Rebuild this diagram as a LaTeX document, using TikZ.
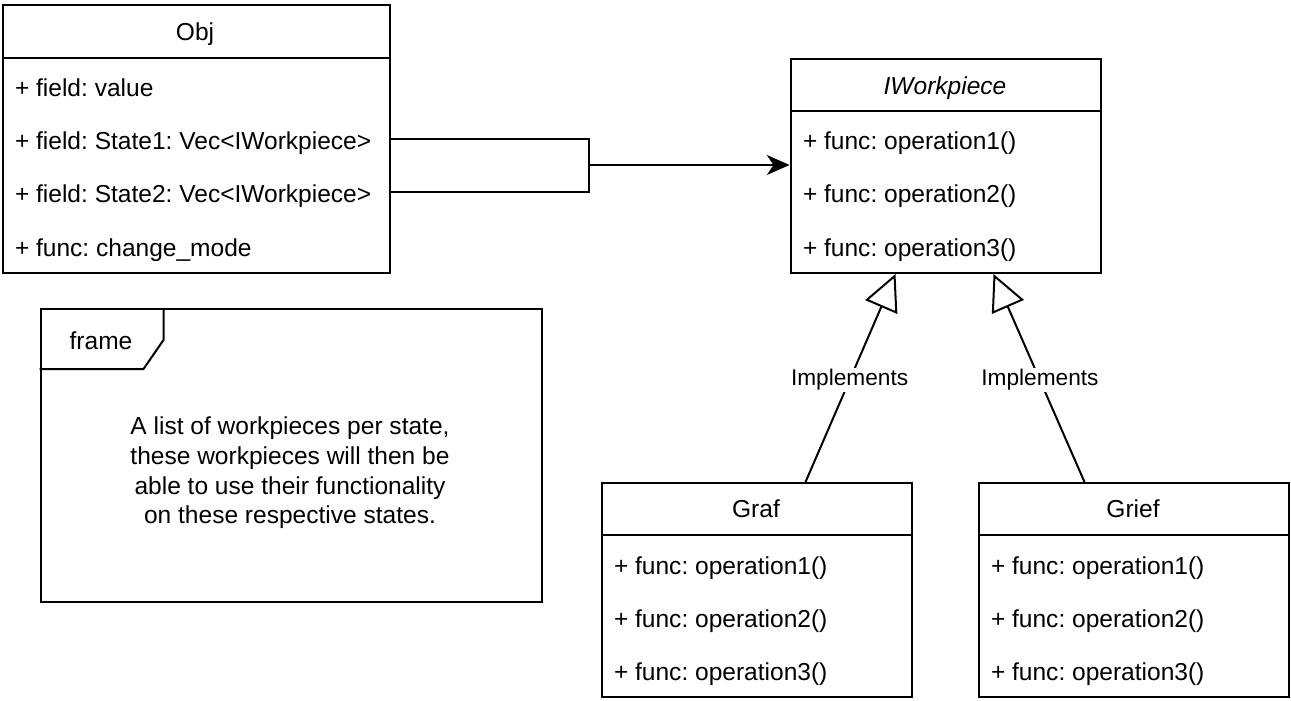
\documentclass[tikz,border=0pt]{standalone}
\usepackage{fontspec}
\setmainfont{Liberation Sans}
\usetikzlibrary{arrows.meta,calc}
\frenchspacing
\begin{document}
\frenchspacing
\begin{tikzpicture}[x=0.75pt,y=-0.75pt,line width=1.5pt,
  classbox/.style={draw,anchor=north west,inner sep=0pt,minimum width=232.5pt,minimum height=160.5pt},
  rowtxt/.style={anchor=base west,inner sep=0pt,font=\fontsize{18.4}{22}\selectfont},
  titletxt/.style={anchor=base,inner sep=0pt,font=\fontsize{18.4}{22}\selectfont},
  lbl/.style={fill=white,inner sep=1pt,font=\fontsize{17}{20}\selectfont},
  inherit/.style={-{Triangle[open,length=27pt,width=26pt,line width=1.5pt]}},
  assoc/.style={-{Stealth[length=17pt,width=15pt,inset=5pt]}}]
\useasboundingbox (0,0) rectangle (1291,700);

% Obj
\node[classbox,minimum width=290.25pt,minimum height=201pt] (Obj) at (1.5,4) {};
\draw (1.5,58) -- (388.5,58);
\node[titletxt] (objt) at (195,40) {Obj};
\node[rowtxt] (o1) at (14,96) {+ field: value};
\node[rowtxt] (o2) at (14,149) {+ field: State1: Vec<IWorkpiece>};
\node[rowtxt] (o3) at (14,202) {+ field: State2: Vec<IWorkpiece>};
\node[rowtxt] (o4) at (14,256) {+ func: change\_mode};

% IWorkpiece
\node[classbox] (IW) at (789.5,58) {};
\draw (789.5,111) -- (1099.5,111);
\node[titletxt,font=\fontsize{18.4}{22}\selectfont\itshape] (iwt) at (945,94) {IWorkpiece};
\node[rowtxt] (i1) at (802,149) {+ func: operation1()};
\node[rowtxt] (i2) at (802,202) {+ func: operation2()};
\node[rowtxt] (i3) at (802,256) {+ func: operation3()};

% Graf
\node[classbox] (Graf) at (600.5,482) {};
\draw (600.5,535) -- (910.5,535);
\node[titletxt] (graft) at (756,517) {Graf};
\node[rowtxt] (g1) at (613,574) {+ func: operation1()};
\node[rowtxt] (g2) at (613,627) {+ func: operation2()};
\node[rowtxt] (g3) at (613,680) {+ func: operation3()};

% Grief
\node[classbox] (Grief) at (977.5,482) {};
\draw (977.5,535) -- (1287.5,535);
\node[titletxt] (grieft) at (1133,517) {Grief};
\node[rowtxt] (h1) at (990,574) {+ func: operation1()};
\node[rowtxt] (h2) at (990,627) {+ func: operation2()};
\node[rowtxt] (h3) at (990,680) {+ func: operation3()};

% frame
\node[draw,anchor=north west,inner sep=0pt,minimum width=375.75pt,minimum height=219.75pt] (frame) at (39.5,308) {};
\draw (163.5,308) -- (163.5,340) -- (143.5,369) -- (39.5,369);
\node[titletxt] (framet) at (101,349) {frame};
\node[align=center,inner sep=0pt,font=\fontsize{18.4}{22.3}\selectfont] (note) at (290,473)
  {A list of workpieces per state,\\these workpieces will then be\\able to use their functionality\\on these respective states.};

% association
\coordinate (j) at (588.5,165);
\draw (Obj.east |- 0,139) -| (j) |- (Obj.east |- 0,192);
\draw[assoc] (j) -- (IW.west |- j);

% inheritance
\draw[inherit] ([xshift=36.75pt]Graf.north) -- node[lbl,pos=0.49] {Implements} ([xshift=-37.5pt]IW.south);
\draw[inherit] ([xshift=-36.75pt]Grief.north) -- node[lbl,pos=0.49] {Implements} ([xshift=36pt]IW.south);
\end{tikzpicture}
\end{document}
